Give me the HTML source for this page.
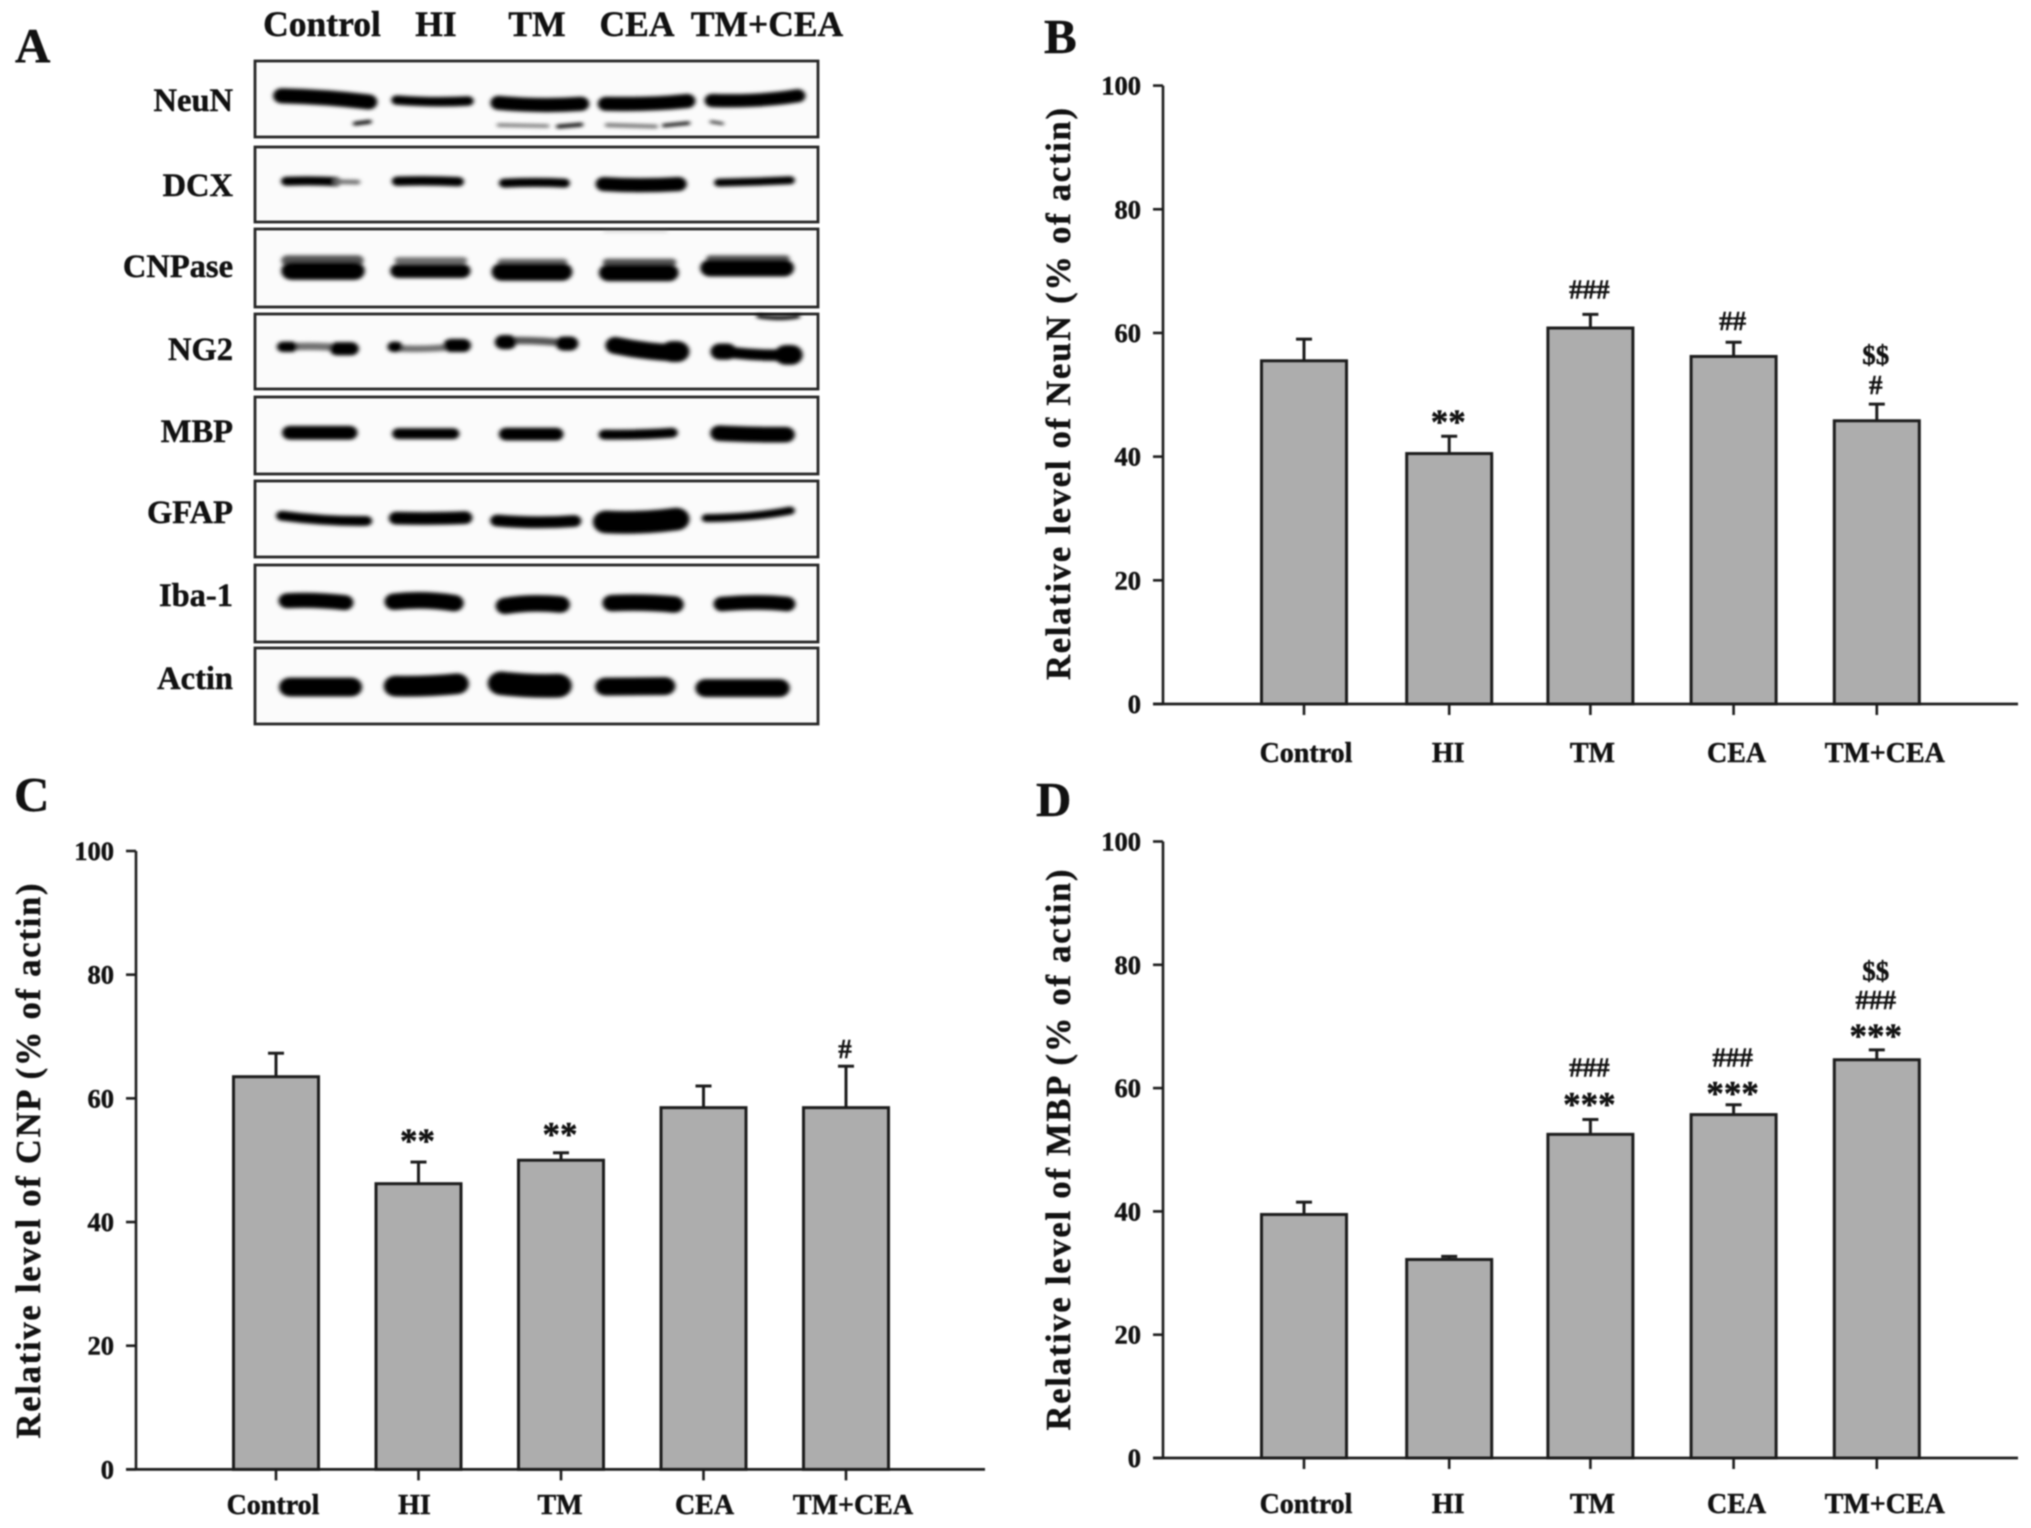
<!DOCTYPE html>
<html lang="en">
<head>
<meta charset="utf-8">
<title>Western blot and protein level charts</title>
<style>
html,body{margin:0;padding:0;background:#fff;}
body{width:2031px;height:1528px;overflow:hidden;}
#figure{display:block;filter:blur(0.85px);}
text{font-family:"Liberation Serif",serif;font-weight:bold;fill:#111;stroke:#111;stroke-width:0.45px;}
.band{fill:none;stroke:#050505;stroke-linecap:round;}
.faint{fill:none;stroke:#707070;stroke-linecap:round;}
.mid{fill:none;stroke:#555;stroke-linecap:round;}
.blot-box{fill:#fbfbfb;stroke:#262626;stroke-width:2.8;}
.lane{font-size:35.5px;text-anchor:middle;}
.rowlabel{font-size:32.5px;text-anchor:end;}
.letter{font-size:49px;}
</style>
</head>
<body>
<svg id="figure" width="2031" height="1528" viewBox="0 0 2031 1528" xmlns="http://www.w3.org/2000/svg">
<defs>
<filter id="soft" x="-10%" y="-30%" width="120%" height="160%"><feGaussianBlur stdDeviation="4"/></filter>
</defs>
<rect width="2031" height="1528" fill="#fff"/>

<g id="panel-a">
<text class="letter" x="15" y="62">A</text>
<text class="lane" x="322" y="36">Control</text>
<text class="lane" x="436" y="36">HI</text>
<text class="lane" x="537" y="36">TM</text>
<text class="lane" x="637" y="36">CEA</text>
<text class="lane" x="767" y="36">TM+CEA</text>

<rect class="blot-box" x="255" y="61" width="563" height="76"/>
<rect class="blot-box" x="255" y="147" width="563" height="75"/>
<rect class="blot-box" x="255" y="229" width="563" height="78"/>
<rect class="blot-box" x="255" y="314" width="563" height="75"/>
<rect class="blot-box" x="255" y="397" width="563" height="77"/>
<rect class="blot-box" x="255" y="481" width="563" height="76"/>
<rect class="blot-box" x="255" y="565" width="563" height="77"/>
<rect class="blot-box" x="255" y="648" width="563" height="76"/>

<text class="rowlabel" x="233" y="111">NeuN</text>
<text class="rowlabel" x="233" y="196">DCX</text>
<text class="rowlabel" x="233" y="277">CNPase</text>
<text class="rowlabel" x="233" y="360">NG2</text>
<text class="rowlabel" x="233" y="442">MBP</text>
<text class="rowlabel" x="233" y="523">GFAP</text>
<text class="rowlabel" x="233" y="606">Iba-1</text>
<text class="rowlabel" x="233" y="689">Actin</text>

<g transform="scale(0.542,0.4719)" filter="url(#soft)">
<g>
<path class="band" stroke-width="32" d="M520 203 Q600 205 680 216"/>
<path class="band" stroke-width="20" d="M732 212 Q800 218 864 214"/>
<path class="band" stroke-width="30" d="M920 218 Q1000 226 1072 220"/>
<path class="band" stroke-width="30" d="M1118 220 Q1200 222 1268 214"/>
<path class="band" stroke-width="28" d="M1314 213 Q1400 216 1472 203"/>
<path class="band" stroke-width="8" d="M655 262 L682 258"/>
<path class="faint" stroke-width="7" d="M920 265 L1010 267"/>
<path class="band" stroke-width="8" d="M1030 268 L1072 264"/>
<path class="faint" stroke-width="8" d="M1120 265 L1210 268"/>
<path class="band" stroke-width="7" d="M1225 266 L1270 261"/>
<path class="band" stroke-width="5" d="M1312 258 L1333 262"/>
</g>
<g>
<path class="band" stroke-width="19" d="M528 384 Q580 382 620 385"/>
<path class="faint" stroke-width="10" d="M620 385 L660 386"/>
<path class="band" stroke-width="20" d="M733 384 Q790 382 846 385"/>
<path class="band" stroke-width="19" d="M930 388 Q990 385 1042 388"/>
<path class="band" stroke-width="30" d="M1114 390 Q1180 395 1252 390"/>
<path class="band" stroke-width="17" d="M1326 387 Q1400 385 1458 382"/>
</g>
<g>
<path class="mid" stroke-width="22" d="M530 552 L660 552"/>
<path class="faint" stroke-width="14" d="M735 552 L855 552"/>
<path class="faint" stroke-width="14" d="M925 555 L1040 555"/>
<path class="mid" stroke-width="16" d="M1120 556 L1240 556"/>
<path class="mid" stroke-width="14" d="M1310 548 L1450 548"/>
<path class="faint" stroke-width="3" d="M1115 490 L1230 490" opacity="0.5"/>
<path class="band" stroke-width="38" d="M538 574 L654 574"/>
<path class="band" stroke-width="30" d="M735 574 L853 574"/>
<path class="band" stroke-width="38" d="M926 576 L1037 576"/>
<path class="band" stroke-width="36" d="M1123 578 L1234 578"/>
<path class="band" stroke-width="36" d="M1310 568 L1447 568"/>
</g>
<g>
<path class="faint" stroke-width="16" d="M530 735 Q590 732 640 738"/>
<path class="band" stroke-width="22" d="M522 735 L538 735"/>
<path class="band" stroke-width="28" d="M622 739 L648 739"/>
<path class="faint" stroke-width="14" d="M730 738 Q790 742 850 733"/>
<path class="band" stroke-width="22" d="M726 735 L732 735"/>
<path class="band" stroke-width="28" d="M832 732 L855 732"/>
<path class="mid" stroke-width="16" d="M935 722 Q990 720 1050 728"/>
<path class="band" stroke-width="30" d="M928 725 L938 725"/>
<path class="band" stroke-width="30" d="M1040 728 L1052 728"/>
<path class="band" stroke-width="36" d="M1135 732 Q1190 745 1245 748"/>
<path class="band" stroke-width="44" d="M1240 745 L1250 745"/>
<path class="band" stroke-width="24" d="M1335 745 Q1400 755 1458 752"/>
<path class="band" stroke-width="34" d="M1328 745 L1342 745"/>
<path class="band" stroke-width="42" d="M1450 752 L1460 752"/>
<path class="band" stroke-width="9" d="M1400 670 Q1440 677 1472 670"/>
</g>
<g>
<path class="band" stroke-width="29" d="M535 917 L645 917"/>
<path class="band" stroke-width="23" d="M735 919 L836 919"/>
<path class="band" stroke-width="27" d="M934 920 L1026 920"/>
<path class="band" stroke-width="21" d="M1115 921 Q1180 922 1240 917"/>
<path class="band" stroke-width="33" d="M1327 918 Q1400 922 1450 921"/>
</g>
<g>
<path class="band" stroke-width="21" d="M520 1093 Q600 1105 676 1104"/>
<path class="band" stroke-width="27" d="M731 1098 Q800 1100 858 1097"/>
<path class="band" stroke-width="25" d="M917 1103 Q990 1110 1060 1104"/>
<path class="band" stroke-width="48" d="M1118 1106 Q1180 1110 1248 1100"/>
<path class="band" stroke-width="17" d="M1303 1098 Q1390 1097 1458 1082"/>
</g>
<g>
<path class="band" stroke-width="32" d="M530 1273 Q580 1270 636 1277"/>
<path class="band" stroke-width="35" d="M727 1275 Q780 1268 838 1278"/>
<path class="band" stroke-width="35" d="M932 1284 Q980 1275 1034 1281"/>
<path class="band" stroke-width="35" d="M1129 1278 Q1190 1275 1244 1281"/>
<path class="band" stroke-width="31" d="M1332 1280 Q1400 1273 1452 1280"/>
</g>
<g>
<path class="band" stroke-width="40" d="M535 1456 L648 1456"/>
<path class="band" stroke-width="44" d="M730 1454 Q790 1455 843 1449"/>
<path class="band" stroke-width="50" d="M925 1448 Q980 1455 1030 1453"/>
<path class="band" stroke-width="38" d="M1117 1455 L1227 1454"/>
<path class="band" stroke-width="38" d="M1302 1458 L1438 1458"/>
</g>
</g>
</g>

<g id="charts"></g>
</svg>

<script>
const categories = ['Control', 'HI', 'TM', 'CEA', 'TM+CEA'];
const yTickLabels = [0, 20, 40, 60, 80, 100];

const neunValues = [55.5, 40.5, 60.8, 56.2, 45.8];
const neunErrorTops = [59, 43.3, 63, 58.5, 48.5];
const neunNotes = [[1, '**', 19], [2, '###', 25], [3, '##', 21], [4, '#', 19], [4, '$$', 49]];

const cnpValues = [63.5, 46.2, 50, 58.5, 58.5];
const cnpErrorTops = [67.3, 49.7, 51.2, 62, 65.2];
const cnpNotes = [[1, '**', 26], [2, '**', 23], [4, '#', 17]];

const mbpValues = [39.5, 32.2, 52.5, 55.7, 64.6];
const mbpErrorTops = [41.5, 32.7, 54.9, 57.3, 66.2];
const mbpNotes = [[2, '***', 20], [2, '###', 52], [3, '***', 16], [3, '###', 47], [4, '***', 19], [4, '###', 50], [4, '$$', 79]];

const NS = 'http://www.w3.org/2000/svg';
const chartRoot = document.getElementById('charts');
const INK = '#1c1c1c';

function mk(tag, attrs, parent, txt) {
  const e = document.createElementNS(NS, tag);
  for (const k in attrs) e.setAttribute(k, attrs[k]);
  if (txt !== undefined) e.textContent = txt;
  parent.appendChild(e);
  return e;
}

function drawChart(c) {
  const g = mk('g', {}, chartRoot);
  
  

  const yScale = v => c.y0 + (c.y100 - c.y0) * v / 100;
  const xScale = i => c.x0 + c.step * i + c.shift[i];
  const barW = 85;

  const letter = mk('text', { x: c.letterX, y: c.letterY, 'font-size': 49 }, g, c.letter);
  
  

  const title = mk('text', {
    transform: 'translate(' + c.titleX + ',' + c.titleY + ') rotate(-90)',
    'text-anchor': 'middle', 'font-size': 34.5, textLength: c.titleLen, lengthAdjust: 'spacing'
  }, g, c.title);
  
  

  c.values.forEach((v, i) => {
    const cx = xScale(i);
    const err = mk('line', { x1: cx, x2: cx, y1: yScale(v), y2: yScale(c.errs[i]), stroke: INK, 'stroke-width': 3 }, g);
    
    
    const cap = mk('line', { x1: cx - 8, x2: cx + 8, y1: yScale(c.errs[i]), y2: yScale(c.errs[i]), stroke: INK, 'stroke-width': 3 }, g);
    
    
    const bar = mk('rect', { x: cx - barW / 2, y: yScale(v), width: barW, height: c.y0 - yScale(v), fill: '#adadad', stroke: INK, 'stroke-width': 3 }, g);
    
    
    const tick = mk('line', { x1: cx, x2: cx, y1: c.y0, y2: c.y0 + 11, stroke: INK, 'stroke-width': 2.6 }, g);
    
    
    const lab = mk('text', { x: cx + c.labelNudge[i], y: c.labelY, 'text-anchor': 'middle', 'font-size': 28 }, g, categories[i]);
    
    
  });

  const yAxis = mk('line', { x1: c.axisX, x2: c.axisX, y1: c.y100, y2: c.y0, stroke: INK, 'stroke-width': 2.6 }, g);
  
  
  const xAxis = mk('line', { x1: c.axisX - 10, x2: c.axisEnd, y1: c.y0, y2: c.y0, stroke: INK, 'stroke-width': 2.8 }, g);
  
  

  yTickLabels.forEach(t => {
    const tk = mk('line', { x1: c.axisX - 10, x2: c.axisX, y1: yScale(t), y2: yScale(t), stroke: INK, 'stroke-width': 2.6 }, g);
    
    
    const tl = mk('text', { x: c.axisX - 22, y: yScale(t) + 9, 'text-anchor': 'end', 'font-size': 26.5 }, g, t);
    
    
  });

  c.notes.forEach(n => {
    const isStar = n[1].charAt(0) === '*';
    const size = n[1] === '**' ? 35 : isStar ? 35 : 27;
    const centre = yScale(c.errs[n[0]]) - n[2];
    const base = isStar ? centre + size * 0.47 : centre + 9;
    const t = mk('text', { x: xScale(n[0]) - 1, y: base, 'text-anchor': 'middle', 'font-size': size }, g, n[1]);
    
    
  });
}

drawChart({ name: 'neun', letter: 'B', letterX: 1044, letterY: 53, values: neunValues, errs: neunErrorTops, notes: neunNotes,
  title: 'Relative level of NeuN (% of actin)', titleX: 1070, titleY: 394, titleLen: 572,
  x0: 1304, step: 143.2, shift: [0, 2, 0, 0, 0], labelNudge: [2, -1, 2, 3, 8], axisX: 1163, axisEnd: 2018, y0: 704, y100: 85.6, labelY: 762 });
drawChart({ name: 'cnp', letter: 'C', letterX: 14, letterY: 811, values: cnpValues, errs: cnpErrorTops, notes: cnpNotes,
  title: 'Relative level of CNP (% of actin)', titleX: 40, titleY: 1161, titleLen: 555,
  x0: 276, step: 142.5, shift: [0, 0, 0, 0, 0], labelNudge: [-3, -4, -1, 1, 7], axisX: 136, axisEnd: 985, y0: 1469.4, y100: 851, labelY: 1514 });
drawChart({ name: 'mbp', letter: 'D', letterX: 1036, letterY: 816, values: mbpValues, errs: mbpErrorTops, notes: mbpNotes,
  title: 'Relative level of MBP (% of actin)', titleX: 1070, titleY: 1150, titleLen: 561,
  x0: 1304, step: 143.2, shift: [0, 2, 0, 0, 0], labelNudge: [2, -1, 2, 3, 8], axisX: 1163, axisEnd: 2018, y0: 1458, y100: 841.5, labelY: 1513 });
</script>
</body>
</html>
